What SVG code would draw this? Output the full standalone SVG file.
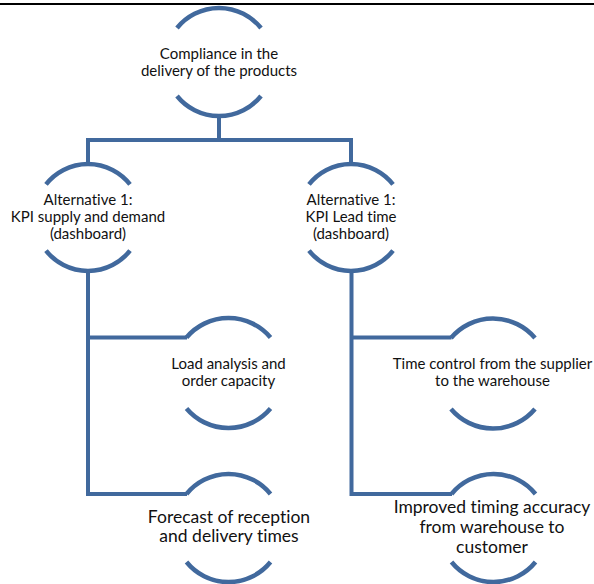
<svg xmlns="http://www.w3.org/2000/svg" width="594" height="584" viewBox="0 0 594 584">
<style>
.arc{fill:none;stroke:#41699D;stroke-width:4.5;stroke-linecap:butt}
.con{fill:none;stroke:#41699D;stroke-width:4;stroke-linejoin:miter}
.t{font-family:Lato,"Liberation Sans",sans-serif;fill:#111111;text-anchor:middle;font-variant-ligatures:none;font-feature-settings:"liga" 0,"clig" 0}
.s{font-size:15px}
.b{font-size:17.5px}
</style>
<rect width="594" height="584" fill="#ffffff"/>
<line x1="0" y1="4" x2="594" y2="4" stroke="#000" stroke-width="2.2"/>
<g id="connectors">
<path class="con" d="M219,116 V140 M88,140 H351 M88,138 V164 M351,138 V164"/>
<path class="con" d="M88,271 V494 H187 M88,337.5 H187"/>
<path class="con" d="M351.5,271 V494 H452 M351.5,337.5 H451.5"/>
</g>
<g id="node-root">
<path class="arc" d="M177,28 A54,54 0 0 1 261,28"/>
<path class="arc" d="M177,96 A54,54 0 0 0 261,96"/>
<text class="t s" x="219" y="59">Compliance in the</text>
<text class="t s" x="219" y="76">delivery of the products</text>
</g>
<g id="node-alt1-supply">
<path class="arc" d="M46,184.4 A53.5,53.5 0 0 1 130,184.4"/>
<path class="arc" d="M46,250.6 A53.5,53.5 0 0 0 130,250.6"/>
<text class="t s" x="88" y="205">Alternative 1:</text>
<text class="t s" x="88" y="222">KPI supply and demand</text>
<text class="t s" x="88" y="239">(dashboard)</text>
</g>
<g id="node-alt1-lead">
<path class="arc" d="M309,184.4 A53.5,53.5 0 0 1 393,184.4"/>
<path class="arc" d="M309,250.6 A53.5,53.5 0 0 0 393,250.6"/>
<text class="t s" x="351" y="205">Alternative 1:</text>
<text class="t s" x="351" y="222">KPI Lead time</text>
<text class="t s" x="351" y="239">(dashboard)</text>
</g>
<g id="node-load">
<path class="arc" d="M186.5,337.5 A55,55 0 0 1 270.5,337.5"/>
<path class="arc" d="M186.5,408.5 A55,55 0 0 0 270.5,408.5"/>
<text class="t s" x="228.5" y="369">Load analysis and</text>
<text class="t s" x="228.5" y="386">order capacity</text>
</g>
<g id="node-forecast">
<path class="arc" d="M186.5,494 A54,54 0 0 1 270.5,494"/>
<path class="arc" d="M186.5,562 A54,54 0 0 0 270.5,562"/>
<text class="t b" x="229" y="523">Forecast of reception</text>
<text class="t b" x="229" y="542">and delivery times</text>
</g>
<g id="node-time-control">
<path class="arc" d="M451,338 A55,55 0 0 1 535,338"/>
<path class="arc" d="M451,409 A55,55 0 0 0 535,409"/>
<text class="t s" x="492.5" y="369">Time control from the supplier</text>
<text class="t s" x="492.5" y="386">to the warehouse</text>
</g>
<g id="node-improved">
<path class="arc" d="M451.5,494 A54,54 0 0 1 535.5,494"/>
<path class="arc" d="M451.5,562 A54,54 0 0 0 535.5,562"/>
<text class="t b" x="492" y="513">Improved timing accuracy</text>
<text class="t b" x="492" y="533">from warehouse to</text>
<text class="t b" x="492" y="553">customer</text>
</g>
</svg>
